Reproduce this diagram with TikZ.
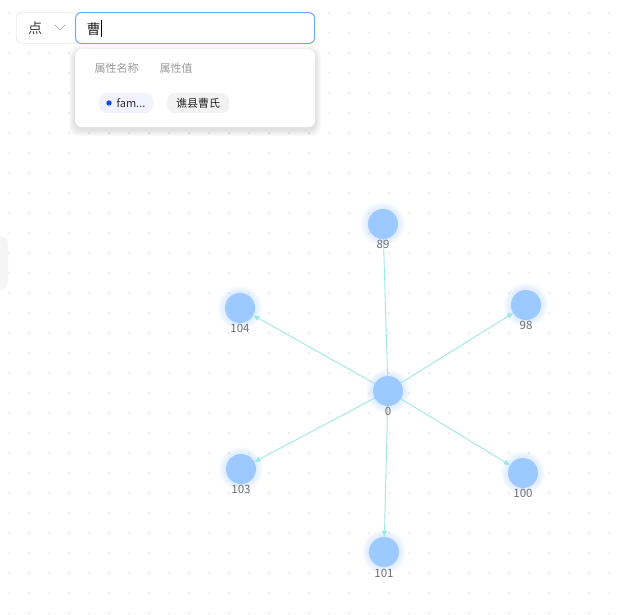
\documentclass[tikz,border=0pt]{standalone}
\usepackage{fontspec}
\setmainfont{Noto Sans CJK SC}
\usetikzlibrary{arrows.meta}
\definecolor{nodec}{HTML}{9CC9FF}
\definecolor{edgec}{HTML}{9DE8E2}
\definecolor{dotc}{HTML}{E3E3E3}
\definecolor{labc}{HTML}{707070}
\tikzset{
  vert/.style={circle,fill=nodec,minimum size=30pt,inner sep=0pt,draw=none},
  lab/.style={font=\fontsize{11.5pt}{11.5pt}\selectfont,text=labc},
  edge/.style={draw=edgec,line width=0.9pt,-{Triangle[length=6pt,width=5pt]}},
  plain/.style={draw=edgec,line width=0.9pt},
}
\newcommand{\glow}[1]{\foreach \r in {16,17.5,...,23}{\fill[nodec,opacity=0.07] #1 circle (\r pt);}}
\begin{document}
\begin{tikzpicture}[x=1pt,y=-1pt]
\useasboundingbox (0,0) rectangle (623,614);
\fill[white] (0,0) rectangle (623,614);
\foreach \i in {0,...,30}{\foreach \j in {0,...,30}{
  \fill[dotc] (9+20*\i,13+20*\j) circle (1pt);}}
\fill[black!4,rounded corners=8pt] (-20,236) rectangle (8,290);
\glow{(388,391)}\glow{(383,224)}\glow{(526,305)}\glow{(240,308)}\glow{(241,469)}\glow{(523,473)}\glow{(384,552)}
\node[vert] (n0) at (388,391) {};
\node[vert] (n89) at (383,224) {};
\node[vert] (n98) at (526,305) {};
\node[vert] (n104) at (240,308) {};
\node[vert] (n103) at (241,469) {};
\node[vert] (n100) at (523,473) {};
\node[vert] (n101) at (384,552) {};
\draw[plain] (n0) -- (n89);
\draw[edge] (n0) -- (n98);
\draw[edge] (n0) -- (n104);
\draw[edge] (n0) -- (n103);
\draw[edge] (n0) -- (n100);
\draw[edge] (n0) -- (n101);
\node[lab] (l0) at (388,411) {0};
\node[lab] (l89) at (383,244) {89};
\node[lab] (l98) at (526,325) {98};
\node[lab] (l104) at (240,328) {104};
\node[lab] (l103) at (241,489) {103};
\node[lab] (l100) at (523,493) {100};
\node[lab] (l101) at (384,573) {101};
% search UI
\node[draw=black!15,fill=white,rounded corners=6pt,minimum width=68pt,minimum height=31pt,anchor=north west] (sel) at (16,12) {};
\node[font=\fontsize{14pt}{14pt}\selectfont,text=black!75] (selt) at (35,28) {点};
\draw[black!40,line width=0.6pt] (55,25) -- (60,30) -- (65,25);
\foreach \k in {1,...,6}{\fill[black,opacity=0.02,rounded corners=9pt] (75-\k,49-\k+3) rectangle (315+\k,127+\k+3);}
\node[draw=blue!55!cyan!60!white,line width=1pt,fill=white,rounded corners=6pt,minimum width=239pt,minimum height=31pt,anchor=north west] (inp) at (75,12) {};
\node[font=\fontsize{14pt}{14pt}\selectfont,text=black!85,anchor=west] (inpt) at (83,29) {曹};
\draw[black,line width=0.6pt] (101,20) -- (101,37);
\node[fill=white,rounded corners=7pt,minimum width=240pt,minimum height=78pt,anchor=north west] (drop) at (75,49) {};
\node[font=\fontsize{11pt}{11pt}\selectfont,text=black!40,anchor=west] (h1) at (91,68) {属性名称};
\node[font=\fontsize{11pt}{11pt}\selectfont,text=black!40,anchor=west] (h2) at (156,68) {属性值};
\node[fill=blue!5,rounded corners=8pt,minimum width=54pt,minimum height=20pt,anchor=west] (tag1) at (99,103) {};
\fill[blue!70!cyan] (109,103) circle (2.7pt);
\node[font=\fontsize{11pt}{11pt}\selectfont,text=black!80,anchor=west] (tag1t) at (113,103) {fam...};
\node[fill=black!5,rounded corners=8pt,minimum width=62pt,minimum height=20pt,anchor=west] (tag2) at (167,103) {};
\node[font=\fontsize{11pt}{11pt}\selectfont,text=black!85] (tag2t) at (198,103) {谯县曹氏};
\end{tikzpicture}
\end{document}
